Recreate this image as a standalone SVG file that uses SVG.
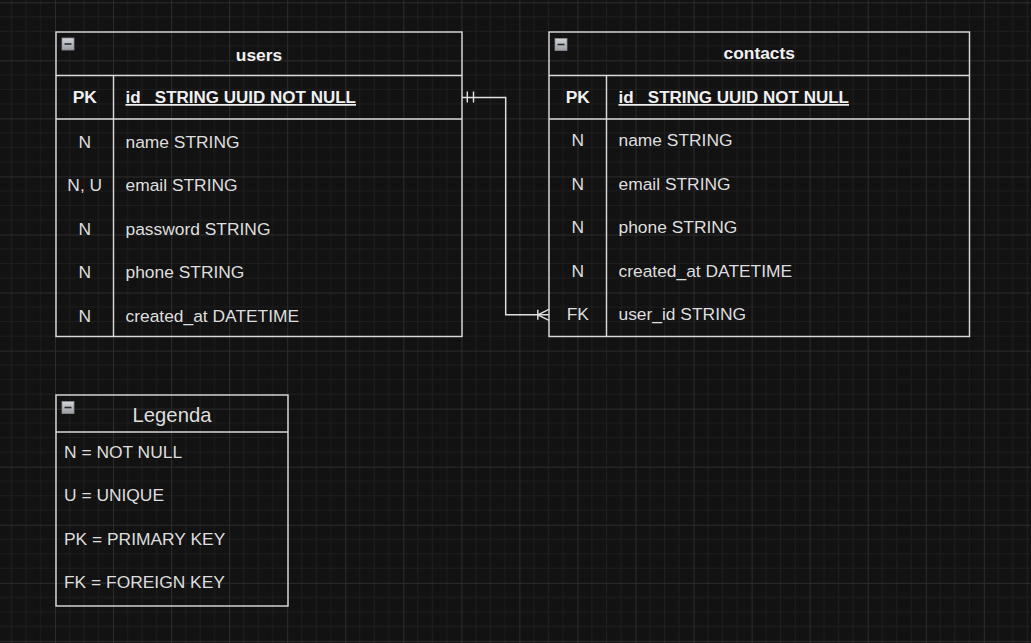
<svg xmlns="http://www.w3.org/2000/svg" width="1031" height="643" viewBox="0 0 1031 643">
  <defs>
    <pattern id="grid" patternUnits="userSpaceOnUse" x="55" y="2.3" width="58.05" height="58.05">
      <path d="M14.51 0V58.05M29.03 0V58.05M43.54 0V58.05M0 14.51H58.05M0 29.03H58.05M0 43.54H58.05" stroke="#1e1e1e" stroke-width="1" fill="none"/>
      <path d="M0.5 0V58.05M0 0.5H58.05" stroke="#2c2c2c" stroke-width="1" fill="none"/>
    </pattern>
    <linearGradient id="btn" x1="0" y1="0" x2="0" y2="1">
      <stop offset="0" stop-color="#d2d5da"/>
      <stop offset="1" stop-color="#9a9ca3"/>
    </linearGradient>
    <g id="minus">
      <rect x="0" y="0" width="12" height="12" fill="url(#btn)" stroke="#8c8e94" stroke-width="0.8"/>
      <line x1="2.5" y1="6" x2="9.5" y2="6" stroke="#2a2a2a" stroke-width="1.6"/>
    </g>
  </defs>
  <style>
    .box { fill: none; stroke: #d9d9d9; stroke-width: 1.45; }
    .ln { stroke: #d9d9d9; stroke-width: 1.45; fill: none; }
    .t { font-family: "Liberation Sans", Arial, sans-serif; font-size: 17.4px; fill: #dedede; }
    .b { font-weight: bold; fill: #f0f0f0; }
    .c { text-anchor: middle; }
    .u { text-decoration: underline; }
    .conn { stroke: #e0e0e0; stroke-width: 1.45; fill: none; }
  </style>
  <rect width="1031" height="643" fill="#121212"/>
  <rect width="1031" height="643" fill="url(#grid)"/>

  <g id="users">
    <rect class="box" x="56" y="32" width="406" height="304.5"/>
    <line class="ln" x1="56" y1="75.5" x2="462" y2="75.5"/>
    <line class="ln" x1="56" y1="119" x2="462" y2="119" stroke-width="2"/>
    <line class="ln" x1="113.5" y1="75.5" x2="113.5" y2="336.5"/>
    <use href="#minus" x="62" y="38"/>
    <text class="t b c" x="259" y="61">users</text>
    <text class="t b c" x="84.75" y="103">PK</text>
    <text class="t b u" x="125.5" y="103" textLength="230.5" lengthAdjust="spacingAndGlyphs">id_ STRING UUID NOT NULL</text>
    <text class="t c" x="84.75" y="148">N</text>
    <text class="t" x="125.5" y="148">name STRING</text>
    <text class="t c" x="84.75" y="191">N, U</text>
    <text class="t" x="125.5" y="191">email STRING</text>
    <text class="t c" x="84.75" y="235">N</text>
    <text class="t" x="125.5" y="235">password STRING</text>
    <text class="t c" x="84.75" y="278">N</text>
    <text class="t" x="125.5" y="278">phone STRING</text>
    <text class="t c" x="84.75" y="322">N</text>
    <text class="t" x="125.5" y="322">created_at DATETIME</text>
  </g>

  <g id="contacts">
    <rect class="box" x="549" y="32" width="420.5" height="304.5"/>
    <line class="ln" x1="549" y1="75.5" x2="969.5" y2="75.5"/>
    <line class="ln" x1="549" y1="119" x2="969.5" y2="119" stroke-width="2"/>
    <line class="ln" x1="606.5" y1="75.5" x2="606.5" y2="336.5"/>
    <use href="#minus" x="555" y="38.5"/>
    <text class="t b c" x="759.25" y="59">contacts</text>
    <text class="t b c" x="577.75" y="103">PK</text>
    <text class="t b u" x="618.5" y="103" textLength="230.5" lengthAdjust="spacingAndGlyphs">id_ STRING UUID NOT NULL</text>
    <text class="t c" x="577.75" y="146">N</text>
    <text class="t" x="618.5" y="146">name STRING</text>
    <text class="t c" x="577.75" y="190">N</text>
    <text class="t" x="618.5" y="190">email STRING</text>
    <text class="t c" x="577.75" y="233">N</text>
    <text class="t" x="618.5" y="233">phone STRING</text>
    <text class="t c" x="577.75" y="277">N</text>
    <text class="t" x="618.5" y="277">created_at DATETIME</text>
    <text class="t c" x="577.75" y="320">FK</text>
    <text class="t" x="618.5" y="320">user_id STRING</text>
  </g>

  <g id="legend">
    <rect class="box" x="56" y="395" width="232" height="211"/>
    <line class="ln" x1="56" y1="432" x2="288" y2="432"/>
    <use href="#minus" x="62" y="401.5"/>
    <text class="t c" x="172" y="422" style="font-size:20.3px">Legenda</text>
    <text class="t" x="64" y="458">N = NOT NULL</text>
    <text class="t" x="64" y="501">U = UNIQUE</text>
    <text class="t" x="64" y="545">PK = PRIMARY KEY</text>
    <text class="t" x="64" y="588">FK = FOREIGN KEY</text>
  </g>

  <g id="connectors">
    <path class="conn" d="M462 97.5H505.7V314.8H549"/>
    <path class="conn" d="M467.3 91.5V102.5M473.5 91.5V102.5"/>
    <path class="conn" d="M537.8 309.8V319.8M537.8 314.8L549 309.3M537.8 314.8L549 320.3"/>
  </g>
</svg>
